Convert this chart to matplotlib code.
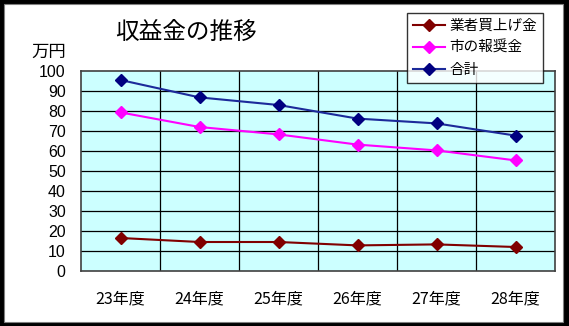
import matplotlib
matplotlib.use("Agg")
import matplotlib.pyplot as plt
from matplotlib.patches import Rectangle
from matplotlib.lines import Line2D

plt.rcParams['font.family'] = ['Noto Sans CJK JP', 'DejaVu Sans']

years = ["23年度", "24年度", "25年度", "26年度", "27年度", "28年度"]
purchase = [16.5, 14.5, 14.5, 12.8, 13.3, 12.0]      # 業者買上げ金
reward = [79.3, 72.0, 68.3, 63.2, 60.3, 55.3]        # 市の報奨金
total = [95.5, 86.8, 83.0, 76.2, 73.8, 67.7]         # 合計
series_names = ["業者買上げ金", "市の報奨金", "合計"]
y_ticks = list(range(0, 101, 10))

W, H = 569, 326
fig = plt.figure(figsize=(W / 100, H / 100), dpi=100)
fig.patch.set_facecolor("black")
fig.patches.append(Rectangle((4 / W, 4 / H), (563 - 4) / W, (322 - 4) / H,
                             transform=fig.transFigure, facecolor="white",
                             edgecolor="#808080", linewidth=0.8, zorder=-5))

ax = fig.add_axes([81 / W, (H - 271) / H, 474 / W, 200 / H])
ax.set_facecolor("#CCFFFF")
x = list(range(len(years)))

styles = [("#800000", "#800000"), ("#FF00FF", "#FF00FF"), ("#1C2A9A", "#000080")]
for vals, (lc, mc) in zip([purchase, reward, total], styles):
    ax.plot(x, vals, color=lc, linewidth=1.5, marker="D", markersize=6,
            markerfacecolor=mc, markeredgecolor=mc, zorder=3)

ax.set_xlim(-0.5, len(years) - 0.5)
ax.set_ylim(0, 100)
ax.set_yticks(y_ticks)
ax.set_yticklabels([str(v) for v in y_ticks], fontsize=11.5,
                   family=['Liberation Sans', 'DejaVu Sans'])
ax.set_xticks(x)
ax.set_xticklabels(years, fontsize=11.5)
ax.tick_params(axis="y", length=0, pad=11)
ax.tick_params(axis="x", length=0, pad=14)

for v in y_ticks[1:-1]:
    ax.axhline(v, color="black", linewidth=0.9, zorder=1)
for i in range(1, len(years)):
    ax.axvline(i - 0.5, color="black", linewidth=0.9, zorder=1)
for s in ax.spines.values():
    s.set_color("#404040")
    s.set_linewidth(1.2)

fig.text(186 / W, 1 - 32 / H, "収益金の推移", fontsize=17, ha="center", va="center")
fig.text(49 / W, 1 - 52 / H, "万円", fontsize=12.5, ha="center", va="center")

handles = [Line2D([0], [0], color=lc, linewidth=1.5, marker="D", markersize=6,
                  markerfacecolor=mc, markeredgecolor=mc)
           for (lc, mc) in styles]
leg = fig.legend(handles, series_names, loc="upper left",
                 bbox_to_anchor=(407 / W, 1 - 13 / H), fontsize=10.5,
                 frameon=True, fancybox=False, handlelength=2.2,
                 handletextpad=0.3, labelspacing=0.55, borderpad=0.4,
                 borderaxespad=0)
leg.get_frame().set_edgecolor("black")
leg.get_frame().set_linewidth(1.0)

fig.savefig("out.png", dpi=100, facecolor=fig.get_facecolor())
